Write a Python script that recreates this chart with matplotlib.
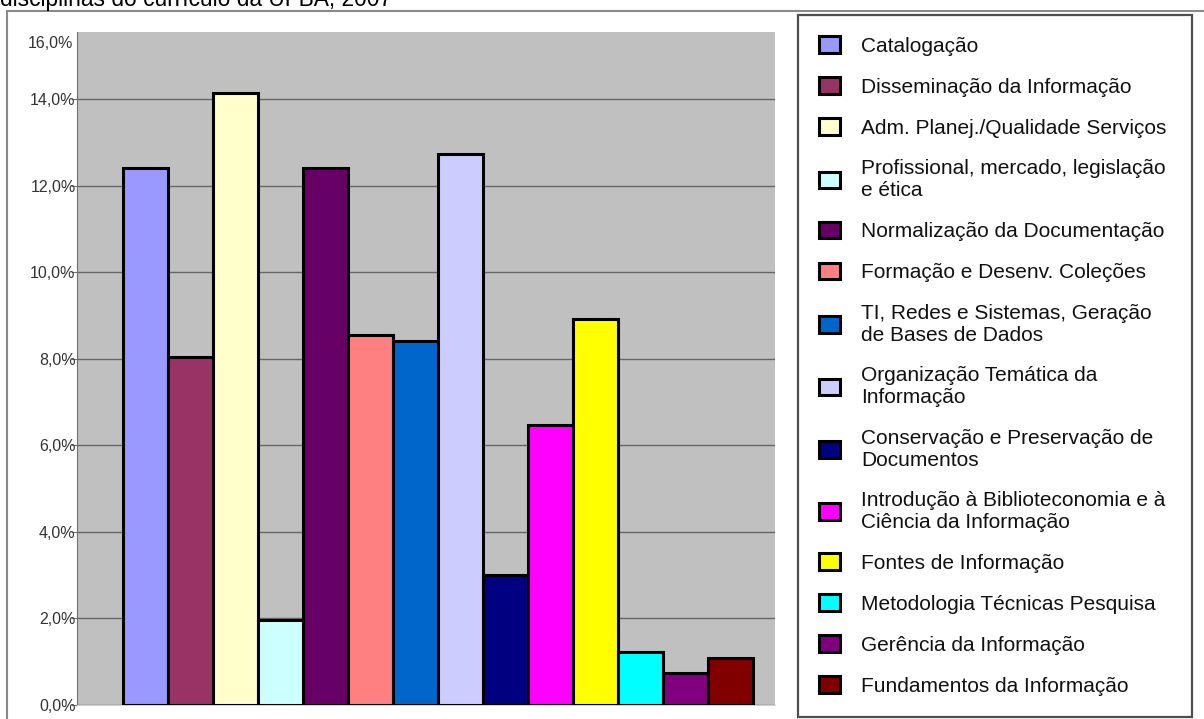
import matplotlib
matplotlib.use("Agg")
import matplotlib.pyplot as plt
from matplotlib.patches import Rectangle

plt.rcParams['font.family'] = ['Liberation Sans', 'DejaVu Sans']

# data (% of disciplines)
categories = [
    "Catalogação",
    "Disseminação da Informação",
    "Adm. Planej./Qualidade Serviços",
    "Profissional, mercado, legislação\ne ética",
    "Normalização da Documentação",
    "Formação e Desenv. Coleções",
    "TI, Redes e Sistemas, Geração\nde Bases de Dados",
    "Organização Temática da\nInformação",
    "Conservação e Preservação de\nDocumentos",
    "Introdução à Biblioteconomia e à\nCiência da Informação",
    "Fontes de Informação",
    "Metodologia Técnicas Pesquisa",
    "Gerência da Informação",
    "Fundamentos da Informação",
]
values = [12.4, 8.05, 14.13, 1.97, 12.4, 8.56, 8.4, 12.72, 3.0, 6.48, 8.93, 1.23, 0.75, 1.08]
colors = ["#9999FF", "#993366", "#FFFFCC", "#CCFFFF", "#660066", "#FF8080", "#0066CC",
          "#CCCCFF", "#000080", "#FF00FF", "#FFFF00", "#00FFFF", "#800080", "#800000"]
y_ticks = [0, 2, 4, 6, 8, 10, 12, 14]
title = "disciplinas do currículo da UFBA, 2007"

W, H = 1204, 719
fig = plt.figure(figsize=(W / 100, H / 100), dpi=100)

# cut-off title at the very top of the picture (as in the source image)
fig.text(0.0, 1 - 6 / H, title, fontsize=16.4, va='baseline', ha='left', color='black')

# outer chart frame
fig.patches.append(Rectangle((7 / W, -0.01), 1.2, 1 - 11 / H + 0.01, transform=fig.transFigure,
                             fill=False, edgecolor='#8a8a8a', lw=1.5))

ax = fig.add_axes([77 / W, 1 - 705 / H, (775 - 77) / W, (705 - 32) / H])
ax.set_facecolor('#C0C0C0')

x = range(len(values))
bars = ax.bar(x, values, width=1.0, color=colors, edgecolor='black', linewidth=2.2,
              label=categories, zorder=3)

ax.set_xlim(-1.52, 13.99)
ax.set_ylim(0, 15.55)
ax.set_xticks([])
ax.set_yticks(y_ticks)
ax.set_yticklabels([f"{v:.1f}%".replace('.', ',') for v in y_ticks], fontsize=11.5, color='#333333')
ax.tick_params(axis='y', length=4, color='#707070', pad=-3)
ax.yaxis.grid(True, color='#666666', lw=1, zorder=1)
ax.set_axisbelow(True)
# top label of the axis
ax.annotate("16,0%", xy=(0, 1), xycoords='axes fraction', xytext=(-3, -8),
            textcoords='offset points', ha='right', va='center', fontsize=11.5, color='#333333')

for side in ['top', 'right']:
    ax.spines[side].set_visible(False)
ax.spines['left'].set_color('#707070')
ax.spines['bottom'].set_color('#d0d0d0')

leg = fig.legend(handles=list(bars), labels=categories, loc='upper left',
                 bbox_to_anchor=(798 / W, 1 - 15 / H, (1192 - 798) / W, 0), mode='expand',
                 fontsize=15, labelspacing=1.03, handlelength=1.0, handleheight=0.85,
                 handletextpad=1.0, borderpad=1.02, borderaxespad=0, fancybox=False,
                 frameon=True)
leg.get_frame().set_edgecolor('#222222')
leg.get_frame().set_linewidth(1.6)
for t in leg.get_texts():
    t.set_color('#111111')

fig.savefig("out.png", dpi=100)
